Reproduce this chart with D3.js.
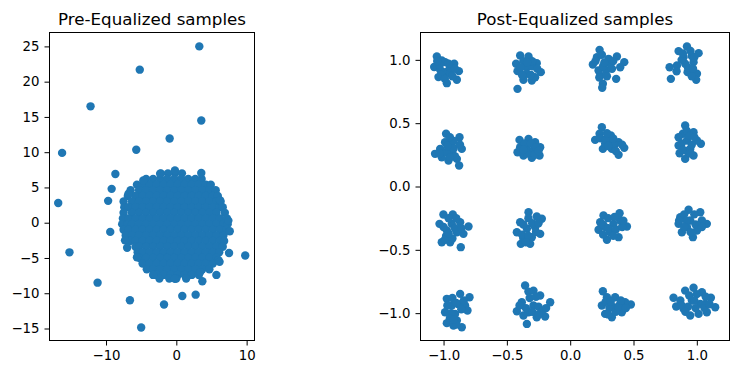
<!DOCTYPE html>
<html>
<head>
<meta charset="utf-8">
<script src="https://cdn.jsdelivr.net/npm/d3@7"></script>
<style>
  body { margin: 0; background: #fff; }
  svg { display: block; font-family: "DejaVu Sans", sans-serif; }
  .tick text { font-family: "DejaVu Sans", sans-serif; font-size: 13.3px; fill: #000; }
  .tick line { stroke: #000; }
  .title { font-family: "DejaVu Sans", sans-serif; font-size: 16.7px; fill: #000; text-anchor: middle; }
</style>
</head>
<body>
<div id="chart"></div>
<script>
// Pre-equalized: dense core read row by row (y, list of x), its edge bumps, and scattered outliers
const preCoreRows = [
  [7.0, [-2.2, -1.2, -0.2, 0.8]],
  [6.2, [-4.3, -3.3, -2.3, -1.3, -0.3, 0.7, 1.7, 2.7, 3.6]],
  [5.4, [-5.6, -4.8, -3.8, -2.8, -1.8, -0.8, 0.2, 1.2, 2.2, 3.2, 4.2, 4.9]],
  [4.6, [-6.5, -5.3, -4.3, -3.3, -2.3, -1.3, -0.3, 0.7, 1.7, 2.7, 3.7, 4.7, 5.6]],
  [3.8, [-6.9, -5.8, -4.8, -3.8, -2.8, -1.8, -0.8, 0.2, 1.2, 2.2, 3.2, 4.2, 5.2, 5.9]],
  [3.0, [-7.5, -6.3, -5.3, -4.3, -3.3, -2.3, -1.3, -0.3, 0.7, 1.7, 2.7, 3.7, 4.7, 5.7, 6.3]],
  [2.2, [-7.4, -6.8, -5.8, -4.8, -3.8, -2.8, -1.8, -0.8, 0.2, 1.2, 2.2, 3.2, 4.2, 5.2, 6.2, 6.6]],
  [1.4, [-7.5, -6.3, -5.3, -4.3, -3.3, -2.3, -1.3, -0.3, 0.7, 1.7, 2.7, 3.7, 4.7, 5.7, 6.9]],
  [0.6, [-7.6, -6.8, -5.8, -4.8, -3.8, -2.8, -1.8, -0.8, 0.2, 1.2, 2.2, 3.2, 4.2, 5.2, 6.2, 7.2]],
  [-0.2, [-7.7, -6.9, -6.3, -5.3, -4.3, -3.3, -2.3, -1.3, -0.3, 0.7, 1.7, 2.7, 3.7, 4.7, 5.7, 6.7, 7.3]],
  [-1.0, [-7.5, -6.8, -5.8, -4.8, -3.8, -2.8, -1.8, -0.8, 0.2, 1.2, 2.2, 3.2, 4.2, 5.2, 6.2, 7.1]],
  [-1.8, [-7.2, -6.3, -5.3, -4.3, -3.3, -2.3, -1.3, -0.3, 0.7, 1.7, 2.7, 3.7, 4.7, 5.7, 6.7]],
  [-2.6, [-6.6, -5.8, -4.8, -3.8, -2.8, -1.8, -0.8, 0.2, 1.2, 2.2, 3.2, 4.2, 5.2, 6.2, 6.8]],
  [-3.4, [-5.8, -5.3, -4.3, -3.3, -2.3, -1.3, -0.3, 0.7, 1.7, 2.7, 3.7, 4.7, 5.7, 6.6]],
  [-4.2, [-5.5, -4.8, -3.8, -2.8, -1.8, -0.8, 0.2, 1.2, 2.2, 3.2, 4.2, 5.2, 6.1]],
  [-5.0, [-5.2, -4.3, -3.3, -2.3, -1.3, -0.3, 0.7, 1.7, 2.7, 3.7, 4.7, 5.7]],
  [-5.8, [-4.8, -3.8, -2.8, -1.8, -0.8, 0.2, 1.2, 2.2, 3.2, 4.2, 5.2]],
  [-6.6, [-4.2, -3.3, -2.3, -1.3, -0.3, 0.7, 1.7, 2.7, 3.7, 4.7]],
  [-7.4, [-3.2, -2.8, -1.8, -0.8, 0.2, 1.2, 2.2, 3.2]],
  [-7.9, [-2.4, -1.0, 0.0, 1.4]]
];

const preCoreEdge = [
  [-2.3, 6.95], [-0.2, 7.4], [-4.7, 6.0], [-6.8, 4.1], [6.2, 3.2], [7.4, 0.3],
  [6.0, -5.3], [3.4, -7.0], [-0.2, -7.95], [-3.3, -7.4], [-5.6, -4.9], [-7.3, -2.5]
];

const preOutliers = [
  [3.27, 25.0], [-5.2, 21.7], [-12.2, 16.5], [3.55, 14.5], [-0.95, 11.95],
  [-5.7, 10.35], [-16.25, 9.9], [-8.67, 6.9], [-9.2, 4.8], [-9.7, 3.1],
  [-16.8, 2.8], [-9.4, -1.3], [-15.2, -4.2], [-7.0, -3.55], [-11.2, -8.5],
  [-6.6, -11.0], [-5.0, -14.85], [-1.75, -11.6], [0.85, -10.4], [2.75, -10.2],
  [3.7, -8.3], [5.7, -7.4], [6.15, -5.55], [7.5, -4.3], [9.8, -4.65],
  [3.55, 7.05], [7.6, -1.2]
];

// Post-equalized: 16-QAM clusters (outline points, then inner points)
const postClusters = [
  [[-1.053, 1.027], [-1.074, 0.943], [-1.04, 0.864], [-0.974, 0.816], [-0.895, 0.843], [-0.879, 0.911],
   [-0.916, 0.969], [-0.987, 0.982], [-0.987, 0.903], [-0.948, 0.89], [-1.027, 0.922], [-1.014, 0.995], [-0.95, 0.94],
   [-1.03, 0.96], [-0.96, 0.97], [-1.02, 0.88], [-0.93, 0.87], [-0.99, 0.85], [-0.91, 0.93], [-1.05, 0.99]],
  [[-0.395, 1.035], [-0.329, 1.027], [-0.427, 0.969], [-0.264, 0.974], [-0.232, 0.903], [-0.303, 0.837],
   [-0.369, 0.842], [-0.416, 0.911], [-0.342, 0.942], [-0.342, 0.89], [-0.416, 0.771], [-0.277, 0.863], [-0.3, 0.95],
   [-0.37, 0.99], [-0.3, 0.99], [-0.38, 0.88], [-0.31, 0.88], [-0.26, 0.93], [-0.39, 0.94], [-0.34, 0.98]],
  [[0.232, 1.079], [0.211, 1.021], [0.179, 0.963], [0.224, 0.916], [0.237, 0.877], [0.258, 0.811],
   [0.253, 0.779], [0.316, 0.969], [0.369, 1.027], [0.427, 0.982], [0.395, 0.942], [0.363, 0.85],
   [0.284, 0.916], [0.303, 1.008], [0.26, 0.95],
   [0.25, 1.04], [0.27, 0.98], [0.23, 0.86], [0.34, 0.99], [0.33, 0.93], [0.2, 0.99], [0.29, 0.87]],
  [[0.922, 1.106], [0.856, 1.069], [1.014, 1.053], [0.974, 0.982], [0.948, 0.921], [1.001, 0.89],
   [0.995, 0.842], [0.795, 0.85], [0.785, 0.942], [0.843, 0.956], [0.908, 0.969], [0.895, 1.021],
   [0.927, 0.903], [0.96, 1.03],
   [0.88, 1.0], [0.95, 1.07], [0.98, 1.02], [0.93, 0.94], [0.97, 0.93], [0.84, 0.91], [0.96, 0.87], [0.89, 1.05]],
  [[-0.98, 0.416], [-0.874, 0.389], [-1.067, 0.258], [-1.027, 0.297], [-0.948, 0.337], [-0.856, 0.297],
   [-0.895, 0.218], [-0.877, 0.166], [-0.961, 0.205], [-1.014, 0.231], [-0.935, 0.271], [-0.988, 0.35], [-0.92, 0.36],
   [-0.95, 0.39], [-0.92, 0.3], [-0.98, 0.27], [-1.03, 0.26], [-0.91, 0.24], [-0.87, 0.33], [-0.95, 0.23], [-0.97, 0.32]],
  [[-0.4, 0.368], [-0.329, 0.376], [-0.277, 0.35], [-0.237, 0.31], [-0.242, 0.245], [-0.303, 0.226],
   [-0.369, 0.245], [-0.416, 0.271], [-0.342, 0.297], [-0.29, 0.284], [-0.395, 0.31],
   [-0.36, 0.34], [-0.31, 0.34], [-0.27, 0.31], [-0.34, 0.26], [-0.28, 0.25], [-0.37, 0.29], [-0.25, 0.28]],
  [[0.25, 0.468], [0.232, 0.416], [0.197, 0.368], [0.258, 0.297], [0.311, 0.363], [0.382, 0.35],
   [0.427, 0.305], [0.382, 0.25], [0.329, 0.297], [0.276, 0.337], [0.321, 0.403],
   [0.24, 0.38], [0.28, 0.37], [0.29, 0.42], [0.35, 0.33], [0.36, 0.28], [0.41, 0.33], [0.3, 0.32], [0.34, 0.38]],
  [[0.908, 0.482], [0.89, 0.416], [0.922, 0.363], [0.974, 0.429], [1.032, 0.337], [0.856, 0.389],
   [0.856, 0.324], [0.864, 0.263], [0.908, 0.218], [0.974, 0.245], [0.948, 0.297], [1.001, 0.363],
   [0.92, 0.44], [0.94, 0.4], [0.88, 0.34], [0.96, 0.33], [0.92, 0.28], [0.89, 0.29], [0.98, 0.39], [0.95, 0.26]],
  [[-1.001, -0.221], [-0.927, -0.221], [-1.032, -0.295], [-1.014, -0.44], [-0.948, -0.44], [-0.864, -0.479],
   [-0.803, -0.316], [-0.843, -0.374], [-0.895, -0.361], [-0.974, -0.348], [-0.935, -0.295], [-0.869, -0.282], [-0.98, -0.39],
   [-0.96, -0.25], [-0.9, -0.25], [-1.0, -0.32], [-0.91, -0.33], [-0.86, -0.33], [-0.99, -0.42], [-0.93, -0.41], [-0.96, -0.37]],
  [[-0.329, -0.203], [-0.395, -0.282], [-0.421, -0.361], [-0.39, -0.453], [-0.316, -0.453], [-0.237, -0.374],
   [-0.224, -0.255], [-0.277, -0.321], [-0.342, -0.334], [-0.303, -0.4], [-0.264, -0.237], [-0.37, -0.41],
   [-0.33, -0.25], [-0.37, -0.3], [-0.3, -0.29], [-0.25, -0.29], [-0.38, -0.38], [-0.33, -0.39], [-0.27, -0.36], [-0.35, -0.44]],
  [[0.263, -0.229], [0.39, -0.211], [0.237, -0.282], [0.224, -0.342], [0.29, -0.421], [0.382, -0.4],
   [0.448, -0.316], [0.342, -0.295], [0.316, -0.361], [0.395, -0.269], [0.276, -0.321],
   [0.3, -0.25], [0.35, -0.24], [0.26, -0.3], [0.3, -0.33], [0.36, -0.34], [0.41, -0.32], [0.34, -0.39], [0.26, -0.38], [0.42, -0.27]],
  [[0.935, -0.184], [1.027, -0.203], [0.869, -0.242], [0.856, -0.295], [0.882, -0.361], [0.969, -0.4],
   [1.001, -0.348], [1.079, -0.295], [1.04, -0.269], [0.948, -0.269], [0.922, -0.321],
   [0.9, -0.22], [0.98, -0.22], [0.92, -0.27], [0.99, -0.3], [0.9, -0.32], [0.95, -0.36], [1.04, -0.32], [0.86, -0.27]],
  [[-0.974, -0.887], [-0.869, -0.848], [-0.795, -0.874], [-0.83, -0.94], [-0.811, -0.979], [-0.909, -1.006],
   [-0.988, -0.993], [-0.974, -1.079], [-0.922, -1.098], [-0.856, -1.111], [-0.895, -1.058], [-0.935, -0.94], [-0.88, -0.93],
   [-0.93, -0.88], [-0.9, -0.92], [-0.97, -0.94], [-0.86, -0.97], [-0.94, -1.0], [-0.95, -1.04], [-0.9, -1.09], [-0.84, -0.9], [-0.92, -1.05]],
  [[-0.356, -0.782], [-0.29, -0.822], [-0.421, -0.985], [-0.382, -0.914], [-0.342, -1.085], [-0.237, -0.861],
   [-0.158, -0.914], [-0.198, -1.027], [-0.264, -1.032], [-0.329, -0.993], [-0.29, -0.94], [-0.369, -1.019], [-0.25, -0.95],
   [-0.33, -0.83], [-0.32, -0.88], [-0.27, -0.87], [-0.35, -0.96], [-0.3, -0.99], [-0.22, -0.98], [-0.4, -0.94], [-0.25, -1.01], [-0.19, -0.96]],
  [[0.258, -0.827], [0.29, -0.874], [0.25, -0.94], [0.276, -1.006], [0.329, -1.032], [0.408, -0.993],
   [0.479, -0.932], [0.434, -0.914], [0.355, -0.874], [0.342, -0.953], [0.395, -0.927],
   [0.28, -0.91], [0.31, -0.96], [0.3, -1.01], [0.36, -0.99], [0.38, -0.95], [0.44, -0.96], [0.32, -0.91], [0.4, -0.9]],
  [[0.816, -0.879], [0.837, -0.948], [0.908, -0.822], [0.974, -0.8], [1.04, -0.835], [1.111, -0.879],
   [1.145, -0.953], [1.079, -0.993], [1.014, -1.006], [0.948, -1.019], [0.895, -0.966], [0.961, -0.9],
   [1.027, -0.927], [1.066, -0.927],
   [0.87, -0.9], [0.88, -0.94], [0.94, -0.86], [1.0, -0.85], [1.07, -0.87], [0.93, -0.95], [0.99, -0.96],
   [1.06, -0.96], [0.98, -0.9], [0.91, -0.99], [1.1, -0.93]]
];

const preXTicks = [-10, 0, 10];
const preYTicks = [-15, -10, -5, 0, 5, 10, 15, 20, 25];
const postXTicks = [-1.0, -0.5, 0.0, 0.5, 1.0];
const postYTicks = [-1.0, -0.5, 0.0, 0.5, 1.0];

const prePoints = preCoreRows
  .flatMap(([y, xs]) => xs.map((x) => [x, y]))
  .concat(preCoreEdge, preOutliers);
const postPoints = postClusters.flat();

const width = 739;
const height = 374;
const color = "#1f77b4";
const r = 4.2;

const svg = d3.select("#chart")
  .append("svg")
  .attr("width", width)
  .attr("height", height);

function renderPanel({ left, right, top, bottom, xDomain, yDomain, xTicks, yTicks, fmt, points, title }) {
  const x = d3.scaleLinear().domain(xDomain).range([left, right]);
  const y = d3.scaleLinear().domain(yDomain).range([bottom, top]);

  const g = svg.append("g");

  g.append("g")
    .selectAll("circle")
    .data(points)
    .join("circle")
    .attr("cx", (d) => x(d[0]))
    .attr("cy", (d) => y(d[1]))
    .attr("r", r)
    .attr("fill", color);

  g.append("g")
    .attr("transform", `translate(0,${bottom})`)
    .call(d3.axisBottom(x).tickValues(xTicks).tickFormat(fmt).tickSize(5).tickPadding(5).tickSizeOuter(0))
    .call((a) => a.select(".domain").remove())
    .attr("font-family", null)
    .attr("font-size", null);

  g.append("g")
    .attr("transform", `translate(${left},0)`)
    .call(d3.axisLeft(y).tickValues(yTicks).tickFormat(fmt).tickSize(5).tickPadding(5).tickSizeOuter(0))
    .call((a) => a.select(".domain").remove())
    .attr("font-family", null)
    .attr("font-size", null);

  g.append("rect")
    .attr("x", left)
    .attr("y", top)
    .attr("width", right - left)
    .attr("height", bottom - top)
    .attr("fill", "none")
    .attr("stroke", "#000")
    .attr("stroke-width", 1);

  g.append("text")
    .attr("class", "title")
    .attr("x", (left + right) / 2)
    .attr("y", top - 7.5)
    .text(title);
}

renderPanel({
  left: 49.5, right: 254.5, top: 32.5, bottom: 340.5,
  xDomain: [-18.04, 11.12], yDomain: [-16.7, 26.97],
  xTicks: preXTicks, yTicks: preYTicks, fmt: d3.format("d"),
  points: prePoints, title: "Pre-Equalized samples"
});

renderPanel({
  left: 420.5, right: 729.5, top: 32.5, bottom: 340.5,
  xDomain: [-1.182, 1.258], yDomain: [-1.216, 1.216],
  xTicks: postXTicks, yTicks: postYTicks, fmt: d3.format(".1f"),
  points: postPoints, title: "Post-Equalized samples"
});
</script>
</body>
</html>
